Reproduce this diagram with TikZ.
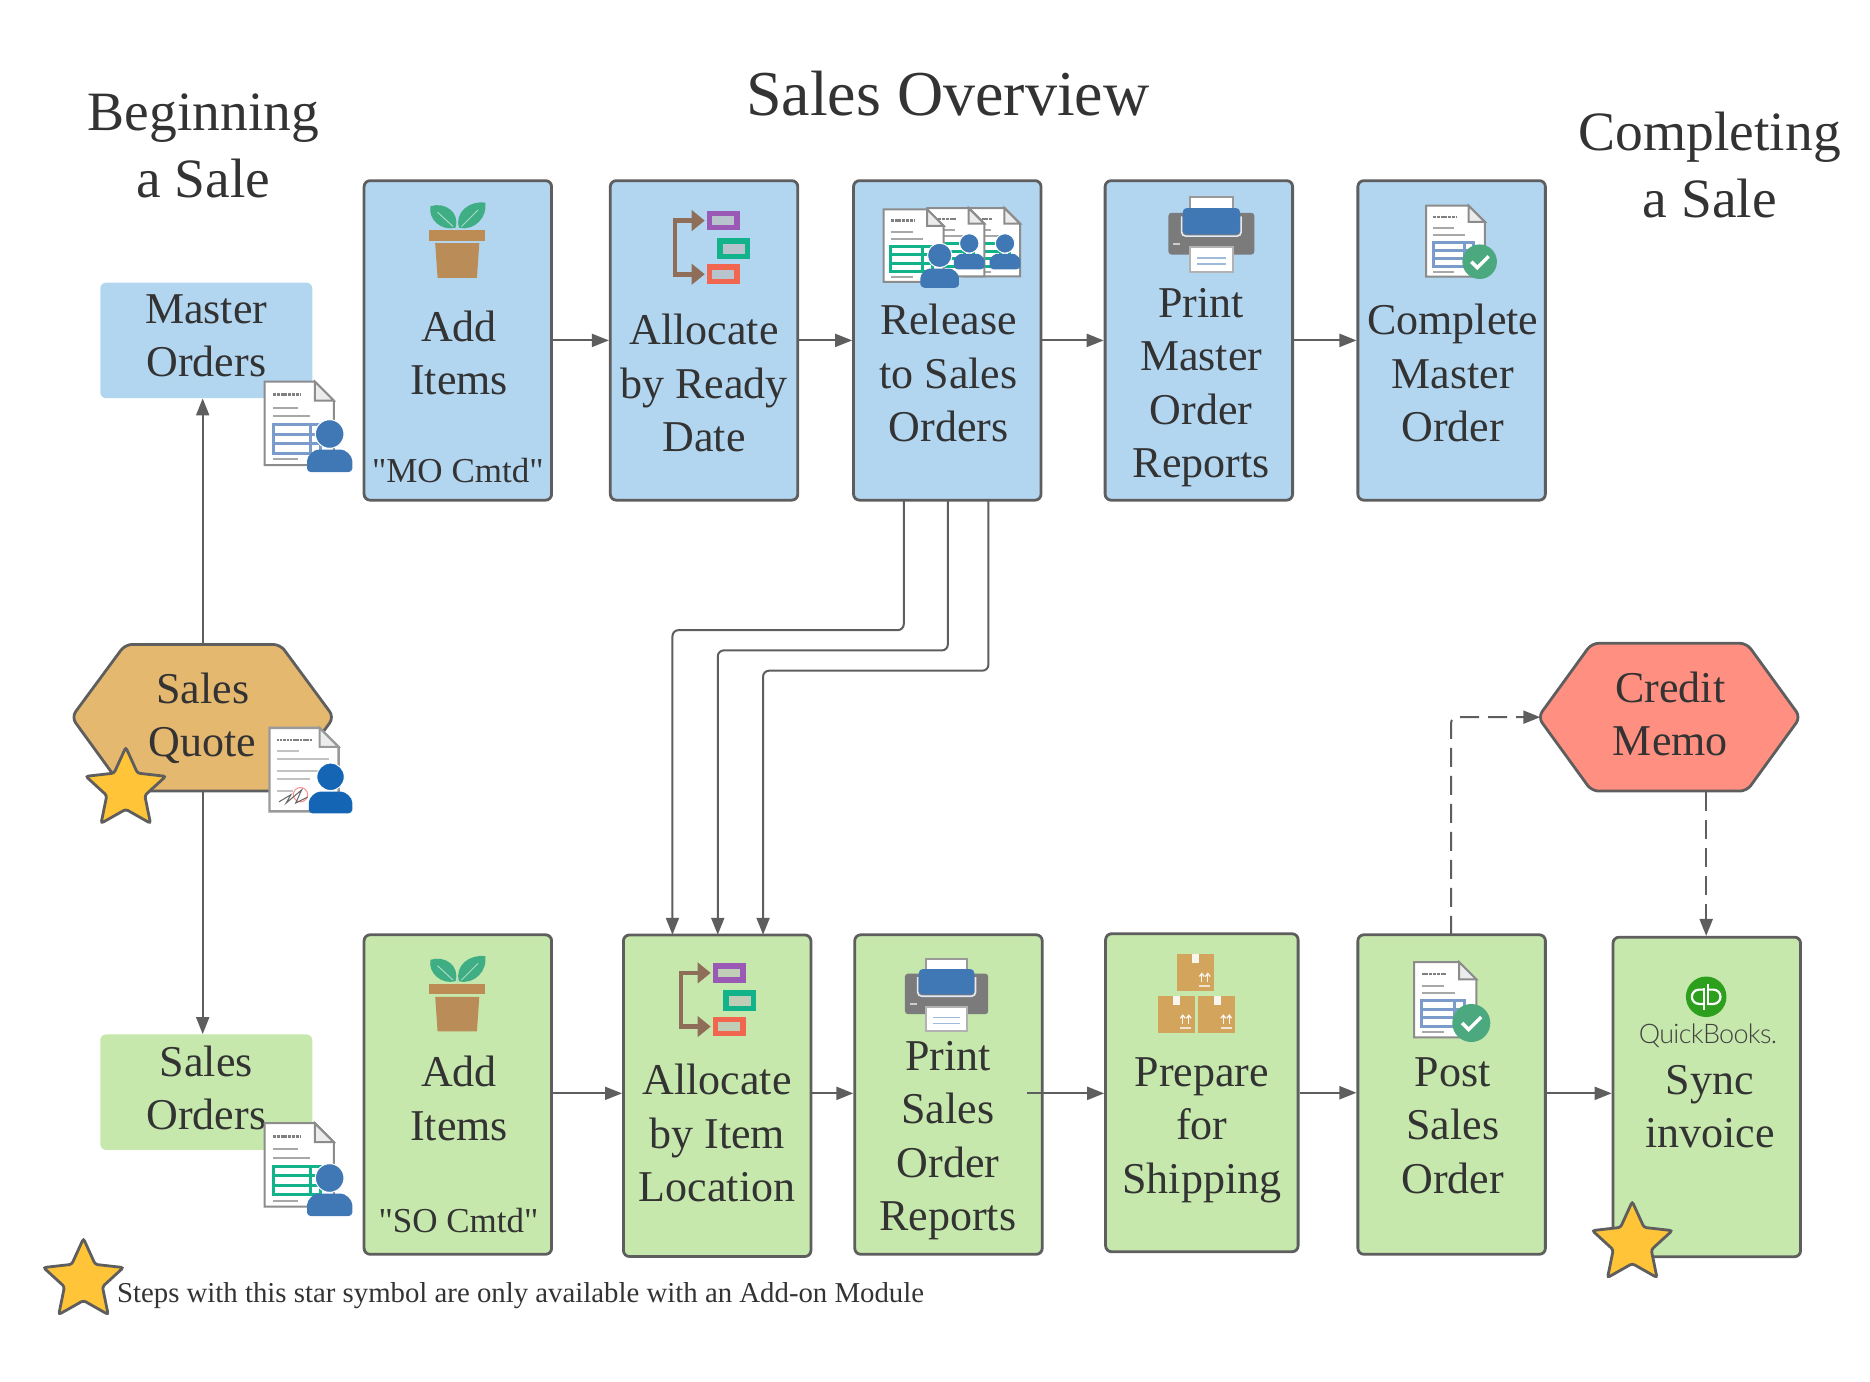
\documentclass[tikz,border=0pt]{standalone}
\usepackage{fontspec}
\setmainfont{Liberation Serif}
\newfontfamily\plainserif{Liberation Serif}
\newfontfamily\qbfont{Lato Light}[LetterSpace=-2.5]
\usetikzlibrary{arrows.meta,shapes.geometric}
\definecolor{bluefill}{HTML}{B2D5F0}
\definecolor{greenfill}{HTML}{C7E8AC}
\definecolor{goldfill}{HTML}{E5B870}
\definecolor{redfill}{HTML}{FF8F80}
\definecolor{starfill}{HTML}{FFC437}
\definecolor{edge}{HTML}{5E5E5E}
\definecolor{txtc}{HTML}{333333}
\definecolor{persb}{HTML}{3F78B5}
\definecolor{persc}{HTML}{1565B5}
\definecolor{tabb}{HTML}{7B9CCB}
\definecolor{tabg}{HTML}{12B38A}
\definecolor{brownc}{HTML}{8E6E58}
\definecolor{potc}{HTML}{BA8D58}
\definecolor{leafc}{HTML}{3FAE84}
\definecolor{cartc}{HTML}{D2A45C}
\definecolor{checkc}{HTML}{4CA97F}
\definecolor{lineg}{HTML}{A8A8A8}
\definecolor{printg}{HTML}{7B7B7B}
\definecolor{qbgreen}{HTML}{2CA01C}
\definecolor{allocP}{HTML}{9B59B6}
\definecolor{allocG}{HTML}{12B38A}
\definecolor{allocR}{HTML}{F0664F}
\newcommand\cartonunit[2]{%
  \begin{scope}[shift={(#1,#2)}]
    \fill[cartc] (0,0) rectangle (31,31);
    \fill[white!90!cartc] (13,0) rectangle (19,8);
    \draw[white!90!cartc,line width=1.3pt] (21,24) -- (21,17) (26,24) -- (26,17);
    \draw[white!90!cartc,line width=1.3pt] (19,19) -- (21,16.5) -- (23,19) (24,19) -- (26,16.5) -- (28,19);
    \draw[white!70!cartc,line width=2pt] (19,27) -- (28,27);
  \end{scope}}
\tikzset{
  stepbox/.style={draw=edge,line width=2.8pt,rounded corners=6pt,minimum width=187.5pt,minimum height=319.5pt,inner sep=0pt},
  bluestep/.style={stepbox,fill=bluefill},
  greenstep/.style={stepbox,fill=greenfill},
  listbox/.style={rounded corners=6pt,minimum width=212pt,minimum height=115.6pt,inner sep=0pt},
  hexa/.style={draw=edge,line width=2.8pt,rounded corners=7pt},
  hexanode/.style={minimum width=257.5pt,minimum height=146.6pt,inner sep=0pt},
  txt/.style={font=\fontsize{44}{53.5}\selectfont,align=center,text=txtc,inner sep=0pt,yshift=-7pt,
    execute at begin node=\strut,execute at end node=\strut},
  small/.style={font=\plainserif\fontsize{35}{42}\selectfont,text=txtc,inner sep=0pt},
  head/.style={font=\fontsize{55.5}{67}\selectfont,align=center,text=txtc,inner sep=0pt,yshift=-9.5pt,
    execute at begin node=\strut,execute at end node=\strut},
  conn/.style={draw=edge,line width=2pt,-{Triangle[length=17pt,width=13pt]}},
  bent/.style={conn,rounded corners=6pt},
  dashconn/.style={bent,dash pattern=on 19pt off 9pt},
  starmark/.style={star,star points=5,star point ratio=2.1,minimum size=84pt,inner sep=0pt,
    draw=edge,line width=2.8pt,fill=starfill,rounded corners=2.5pt},
  pics/docicon/.style={code={
    \draw[fill=white,draw=gray!90,line width=2pt] (0,0) -- (42,0) -- (58,16) -- (58,70) -- (0,70) -- cycle;
    \draw[fill=gray!15,draw=gray!90,line width=2pt] (42,0) -- (42,16) -- (58,16) -- cycle;
    \draw[gray,line width=2.6pt,dash pattern=on 3pt off .8pt] (7,11) -- (30,11);
    \draw[lineg,line width=2pt] (7,22) -- (28,22) (7,29) -- (38,29) (7,65) -- (28,65);
    \draw[#1,line width=3pt] (7,36) rectangle (47,60) (7,44) -- (47,44) (7,52) -- (47,52) (38,36) -- (38,60);
  }},
  pics/contracticon/.style={code={
    \draw[fill=white,draw=gray!80,line width=2.4pt] (0,0) -- (42,0) -- (58,16) -- (58,70) -- (0,70) -- cycle;
    \draw[fill=gray!15,draw=gray!80,line width=2pt] (42,0) -- (42,16) -- (58,16) -- cycle;
    \draw[gray,line width=2.2pt,dash pattern=on 2.5pt off .8pt] (6,10) -- (36,10);
    \draw[lineg!70,line width=2pt] (6,19) -- (25,19) (6,26) -- (50,26) (6,36) -- (44,36) (6,43) -- (34,43) (6,53) -- (20,53);
    \draw[red!45,line width=1pt] (26,56) circle (6);
    \draw[gray!80!black,line width=1pt] (8,62) -- (18,56) -- (14,63) -- (27,52) -- (22,63) -- (32,58);
  }},
  pics/personicon/.style={code={
    \fill[#1,draw=white,line width=1pt] (19,12) circle (12);
    \fill[#1,rounded corners=4pt] (0,44) -- (0,38) .. controls (0,30) and (6,25) .. (13,25) -- (25,25) .. controls (32,25) and (38,30) .. (38,38) -- (38,44) -- cycle;
  }},
  pics/checkicon/.style={code={
    \fill[checkc] (0,0) circle (14.5);
    \draw[white,line width=3.4pt] (-7,0) -- (-2,5) -- (7.5,-4.5);
  }},
  pics/planticon/.style={code={
    \fill[leafc] (22,21) .. controls (10,24) and (-1,14) .. (1,3) .. controls (13,-1) and (26,8) .. (22,21) -- cycle;
    \fill[leafc] (25,21) .. controls (38,24) and (49,12) .. (47,0) .. controls (34,-2) and (21,8) .. (25,21) -- cycle;
    \draw[white!55!leafc,line width=1pt] (20,20) -- (7,8) (27,20) -- (41,6) (23.5,18) -- (23.5,23);
    \fill[potc!95!orange] (0,23) rectangle (47,32);
    \fill[potc] (5,34) -- (42,34) -- (40,63) -- (7,63) -- cycle;
  }},
  pics/printicon/.style={code={
    \draw[fill=white,draw=gray!80,line width=2pt] (18,0) rectangle (54,20);
    \fill[printg,rounded corners=3pt] (0,13) rectangle (72,48);
    \fill[persb,rounded corners=4pt] (12,9) rectangle (60,31);
    \draw[white!85!persb,line width=1.6pt,rounded corners=4pt] (11,16) -- (11,32.5) -- (61,32.5) -- (61,16);
    \fill[white!60!gray] (4,38) rectangle (10,40);
    \draw[fill=white,draw=gray!60,line width=2pt] (18,42) rectangle (54,63);
    \draw[persb!50!white,line width=1.6pt] (24,51) -- (48,51) (24,56) -- (48,56);
  }},
  pics/cartonicon/.style={code={\cartonunit{16}{0}\cartonunit{0}{35}\cartonunit{34}{35}}},
  pics/qbmark/.style={code={
    \fill[qbgreen] (0,0) circle (17);
    \draw[white,line width=2.2pt] (-1.8,-6) -- (-6,-6) arc[start angle=270,delta angle=-180,radius=6] -- (-1.8,6);
    \draw[white,line width=2.2pt] (-1.8,-7) -- (-1.8,11);
    \draw[white,line width=2.2pt] (1.8,6) -- (6,6) arc[start angle=90,delta angle=-180,radius=6] -- (1.8,-6);
    \draw[white,line width=2.2pt] (1.8,7) -- (1.8,-11);
  }},
  pics/allocset/.style={code={
    \draw[brownc,line width=4.6pt] (20,9) -- (3,9) -- (3,54) -- (20,54);
    \fill[brownc] (28,9) -- (17,0) -- (17,18) -- cycle (28,54) -- (17,45) -- (17,63) -- cycle;
    \draw[allocP,line width=5.5pt,fill=#1] (32,3) rectangle (55,15);
    \draw[allocG,line width=5.5pt,fill=#1] (41,26) rectangle (64,39);
    \draw[allocR,line width=5.5pt,fill=#1] (32,48) rectangle (55,60);
  }},
}
\begin{document}
\begin{tikzpicture}[x=1.1923pt,y=-1.1923pt]
\useasboundingbox (0,0) rectangle (1568.4,1159.1);
% left list boxes
\node[listbox,fill=bluefill] (masterB) at (173,285.5) {};
\node[listbox,fill=greenfill] (salesB) at (173,916) {};
% process boxes, blue row
\node[bluestep] (addB) at (384,285.5) {};
\node[bluestep] (allocB) at (590.5,285.5) {};
\node[bluestep] (relB) at (794.5,285.5) {};
\node[bluestep] (printB) at (1005.5,285.5) {};
\node[bluestep] (compB) at (1217.5,285.5) {};
% process boxes, green row
\node[greenstep] (addG) at (384,918) {};
\node[greenstep,minimum height=321.5pt] (allocG) at (601.5,919) {};
\node[greenstep] (printG) at (795.5,918) {};
\node[greenstep,minimum width=192.5pt,minimum height=318pt] (prepG) at (1008,916.5) {};
\node[greenstep] (postG) at (1217.5,918) {};
\node[greenstep] (syncG) at (1431.5,920) {};
% hexagons
\draw[hexa,fill=goldfill] (60,601.5) -- (105,540.5) -- (235,540.5) -- (280,601.5) -- (235,663.5) -- (105,663.5) -- cycle;
\draw[hexa,fill=redfill] (1290,601.5) -- (1335,539.5) -- (1465,539.5) -- (1510,601.5) -- (1465,663.5) -- (1335,663.5) -- cycle;
\node[hexanode] (quoteH) at (170,602) {};
\node[hexanode] (creditH) at (1400,601.5) {};
% named route points
\coordinate (r1) at (758,420);
\coordinate (r2) at (795,420);
\coordinate (r3) at (829,420);
\coordinate (g1) at (564,784);
\coordinate (g2) at (602,784);
\coordinate (g3) at (640,784);
\coordinate (pOut) at (861,917);
\coordinate (postTop) at (1217,784);
\coordinate (crOut) at (1431,664);
\coordinate (syncTop) at (1431,785);
% connectors
\draw[conn] (quoteH.north) -- (quoteH.north |- masterB.south);
\draw[conn] (quoteH.south) -- (quoteH.south |- salesB.north);
\draw[conn] (addB.east) -- (allocB.west);
\draw[conn] (allocB.east) -- (relB.west);
\draw[conn] (relB.east) -- (printB.west);
\draw[conn] (printB.east) -- (compB.west);
\draw[conn] (addG.east |- pOut) -- (allocG.west |- pOut);
\draw[conn] (allocG.east |- pOut) -- (printG.west |- pOut);
\draw[conn] (pOut) -- (prepG.west |- pOut);
\draw[conn] (prepG.east) -- (prepG.east -| postG.west);
\draw[conn] (postG.east |- pOut) -- (syncG.west |- pOut);
\draw[bent] (r1) |- (g1 |- 0,528.5) -- (g1);
\draw[bent] (r2) |- (g2 |- 0,545.5) -- (g2);
\draw[bent] (r3) |- (g3 |- 0,562.5) -- (g3);
\draw[dashconn] (postTop) |- (creditH.west);
\draw[dashconn] (crOut) -- (syncTop);
% texts
\node[font=\fontsize{64}{77}\selectfont,text=txtc,inner sep=0pt] (titleT) at (795,78.5) {Sales Overview};
\node[head] (beginT) at (170.5,122.5) {Beginning\\a Sale};
\node[head] (endT) at (1434,138.5) {Completing\\a Sale};
\node[txt] (masterT) at (173,282.5) {Master\\Orders};
\node[txt] (salesT) at (173,913) {Sales\\Orders};
\node[txt] (quoteT) at (170,600.5) {Sales\\Quote};
\node[txt] (creditT) at (1401,599.5) {Credit\\Memo};
\node[txt] (addBT) at (385,296.5) {Add\\Items};
\node[small] (moT) at (384,394.5) {"MO Cmtd"};
\node[txt] (allocBT) at (590.5,322) {Allocate\\by Ready\\Date};
\node[txt] (relBT) at (795.5,313.5) {Release\\to Sales\\Orders};
\node[txt] (printBT) at (1007.5,322) {Print\\Master\\Order\\Reports};
\node[txt] (compBT) at (1218.5,313.5) {Complete\\Master\\Order};
\node[txt] (addGT) at (385,922) {Add\\Items};
\node[small] (soT) at (384.5,1024) {"SO Cmtd"};
\node[txt] (allocGT) at (601.5,951) {Allocate\\by Item\\Location};
\node[txt] (printGT) at (795,953.5) {Print\\Sales\\Order\\Reports};
\node[txt] (prepGT) at (1008,944.5) {Prepare\\for\\Shipping};
\node[txt] (postGT) at (1218.5,944.5) {Post\\Sales\\Order};
\node[txt] (syncGT) at (1434,929) {Sync\\invoice};
\node[font=\fontsize{28.8}{34}\selectfont,text=txtc,inner sep=0pt,anchor=west] (noteT) at (98,1087) {Steps with this star symbol are only available with an Add-on Module};
\node[font=\fontsize{27}{30}\selectfont\qbfont,text=black!75,inner sep=0pt] (qbT) at (1432.5,869) {QuickBooks.};
% icons
\pic at (222,320) {docicon=tabb};
\pic at (257.5,352) {personicon=persb};
\pic at (222,942) {docicon=tabg};
\pic at (257.5,976) {personicon=persb};
\pic at (226,610.5) {contracticon};
\pic[scale=.96] at (259,640) {personicon=persc};
\pic at (360,170) {planticon};
\pic at (360,802) {planticon};
\pic at (563,176) {allocset=bluefill!50!gray!70!white};
\pic at (568,807) {allocset=greenfill!55!gray!70!white};
\pic[scale=.82] at (808,174.5) {docicon=tabg};
\pic[scale=.82] at (778,174.5) {docicon=tabg};
\pic[scale=.87] at (741,175.5) {docicon=tabg};
\pic[scale=.68] at (800,196) {personicon=persb};
\pic[scale=.68] at (830,196) {personicon=persb};
\pic[scale=.85] at (772,204) {personicon=persb};
\pic at (980,165.5) {printicon};
\pic[scale=.97] at (759,804) {printicon};
\pic[scale=.85] at (1196,172.5) {docicon=tabb};
\pic at (1241,219.5) {checkicon};
\pic[scale=.9] at (1186,807) {docicon=tabb};
\pic[scale=1.1] at (1234,858) {checkicon};
\pic at (971,800) {cartonicon};
\pic at (1431,836) {qbmark};
% stars
\node[starmark] (starQ) at (105.5,662) {};
\node[starmark] (starN) at (70,1074) {};
\node[starmark] (starS) at (1369,1043) {};
\end{tikzpicture}
\end{document}
